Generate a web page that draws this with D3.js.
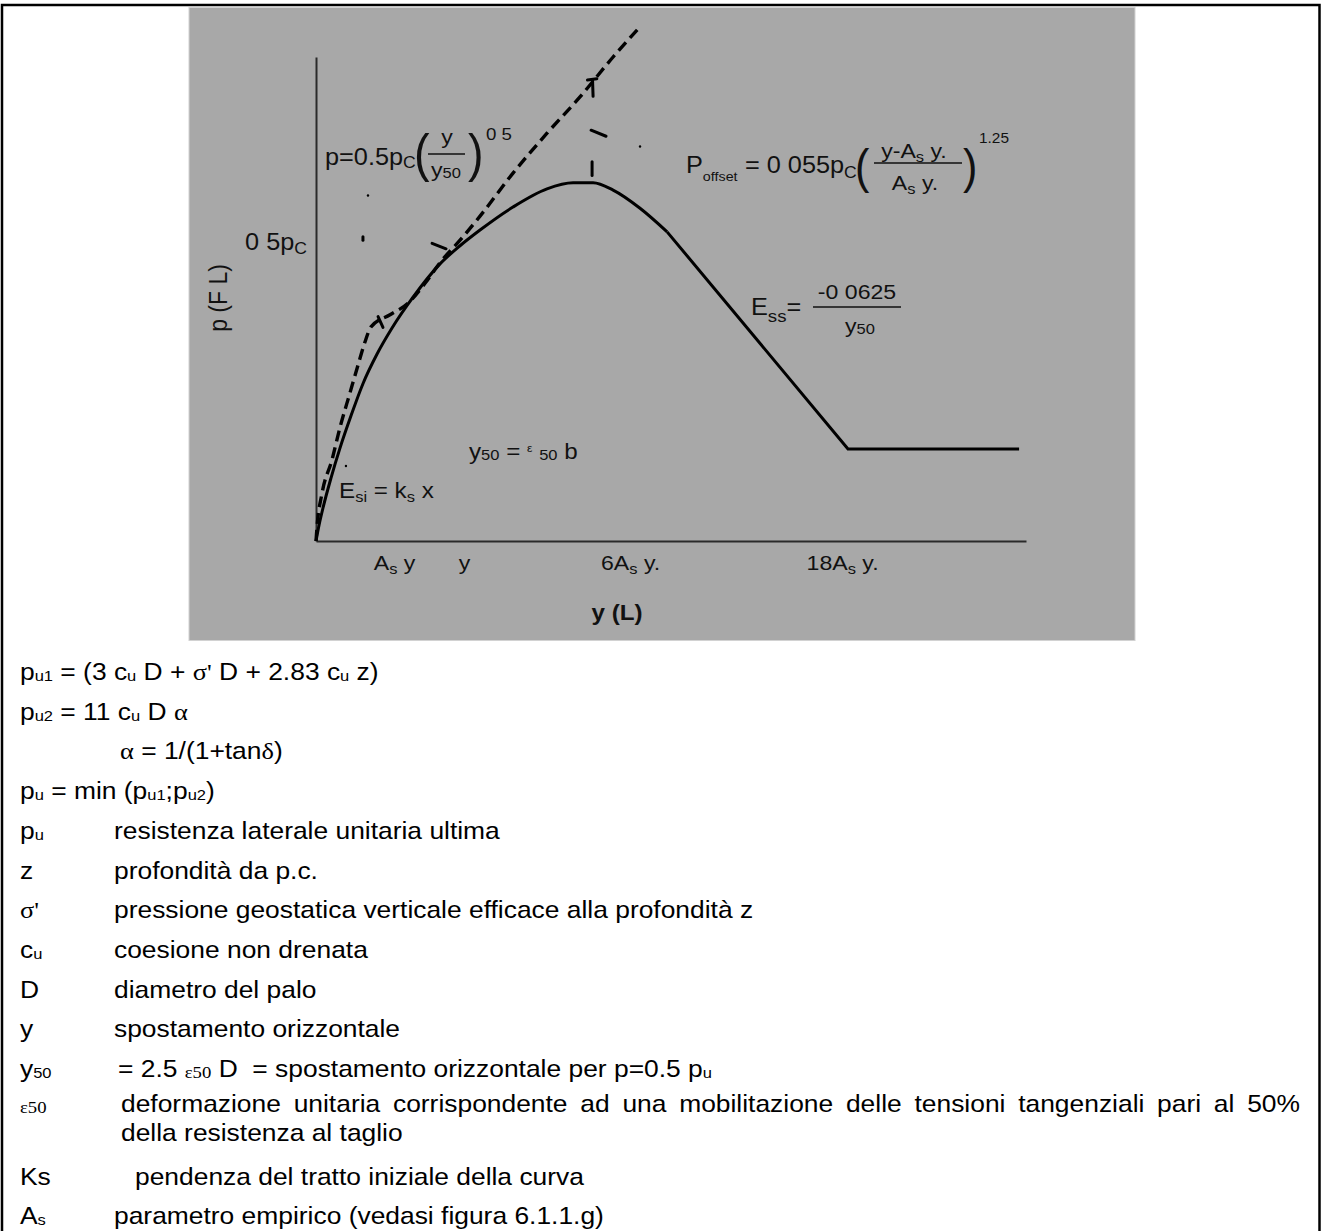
<!DOCTYPE html>
<html><head><meta charset="utf-8">
<script src="https://cdn.jsdelivr.net/npm/d3@7"></script>
<style>
html,body{margin:0;padding:0;background:#fff;overflow:hidden;}
svg{display:block;}
text{font-family:"Liberation Sans",Arial,Helvetica,sans-serif;white-space:pre;}
</style></head><body>
<svg id="c" width="1321" height="1231"></svg>
<script>
// ---------------- DATA ----------------
// x in units of y50, p in units of pc
const curveX = [0, 0.021, 0.049, 0.104, 0.167, 0.243, 0.326, 0.424, 0.528, 0.674, 0.861, 1.000, 1.139, 1.368, 1.604, 1.785, 1.924, 2.063, 2.250, 2.438];
const curveP = [0, 0.026, 0.055, 0.104, 0.154, 0.207, 0.260, 0.309, 0.352, 0.403, 0.458, 0.488, 0.514, 0.552, 0.582, 0.592, 0.592, 0.580, 0.550, 0.511];
const residualX = [2.438, 3.694, 4.882];
const residualP = [0.511, 0.152, 0.152];
const parabolaX = [0, 0.007, 0.042, 0.111, 0.167, 0.236, 0.292, 0.340, 0.382, 0.514, 0.639, 0.757, 0.861, 1.014, 1.139, 1.368, 1.604, 1.833, 2.063, 2.250];
const parabolaP = [0, 0.023, 0.079, 0.134, 0.188, 0.245, 0.291, 0.329, 0.354, 0.374, 0.393, 0.426, 0.460, 0.501, 0.537, 0.608, 0.674, 0.734, 0.800, 0.850];
const xTickValues = [0.542, 1.028, 2.181, 3.653];
const xTickLabels = [
  [["A"],["s","sub"],[" y"]],
  [["y"]],
  [["6A"],["s","sub"],[" y."]],
  [["18A"],["s","sub"],[" y."]]
];
const yTickValues = [0.5];
const yTickLabels = [[["0 5p"],["C","sub"]]];
// stray pen marks of the scanned figure (segments x1,p1,x2,p2)
const strayX1 = [1.917, 1.910, 1.920, 1.885, 0.806, 0.431, 0.326];
const strayP1 = [0.627, 0.679, 0.763, 0.762, 0.492, 0.371, 0.503];
const strayX2 = [1.917, 2.014, 1.924, 1.950, 0.903, 0.465, 0.326];
const strayP2 = [0.604, 0.669, 0.735, 0.764, 0.483, 0.353, 0.497];
const dotX = [2.25, 0.361, 0.208];
const dotP = [0.652, 0.571, 0.124];

// ---------------- DRAW ----------------
const svg = d3.select("#c");
const SX = 1.1;
const SERIF = "'Liberation Serif','DejaVu Serif',serif";

function rich(parent, x, y, segs, o = {}) {
  const size = o.size || 23, sx = o.sx || SX;
  const t = parent.append("text")
    .attr("transform", `translate(${x},${y}) scale(${sx},1)`)
    .attr("text-anchor", o.anchor || "start")
    .attr("font-size", size)
    .attr("fill", o.fill || "#111");
  if (o.weight) t.attr("font-weight", o.weight);
  let cur = 0;
  segs.forEach(([s, k]) => {
    let fs = size, off = 0, fam = null;
    if (k === "sub") { fs = o.subSize || Math.round(size * 0.66); off = o.subOff != null ? o.subOff : Math.round(size * 0.2); }
    else if (k === "sm") { fs = o.subSize || Math.round(size * 0.64); off = 1; }
    else if (k === "g") { fam = SERIF; }
    else if (k === "gs") { fam = SERIF; fs = Math.round(size * 0.7); off = 1; }
    else if (k === "tiny") { fs = Math.round(size * 0.5); off = -Math.round(size * 0.3); }
    const ts = t.append("tspan").attr("font-size", fs).attr("dy", off - cur).text(s);
    if (fam) ts.attr("font-family", fam);
    cur = off;
  });
  return t;
}

// outer frame
svg.append("rect").attr("x", 2).attr("y", 5).attr("width", 1317.5).attr("height", 1300)
  .attr("fill", "none").attr("stroke", "#000").attr("stroke-width", 2.5);

// grey figure panel
svg.append("rect").attr("x", 189).attr("y", 7.5).attr("width", 946).attr("height", 633)
  .attr("fill", "#a8a8a8").attr("stroke", "#d2d2d2").attr("stroke-width", 1);

const x = d3.scaleLinear().domain([0, 4.93]).range([316, 1026]);
const y = d3.scaleLinear().domain([0, 0.8]).range([541, 57]);

const chart = svg.append("g");

// axes
const gx = chart.append("g").attr("transform", `translate(0,${y(0)})`)
  .call(d3.axisBottom(x).tickValues(xTickValues).tickSize(0).tickFormat(() => ""));
const gy = chart.append("g").attr("transform", `translate(${x(0)},0)`)
  .call(d3.axisLeft(y).tickValues(yTickValues).tickSize(0).tickFormat(() => ""));
[gx, gy].forEach(g => g.select(".domain").attr("stroke", "#2a2a2a").attr("stroke-width", 2));

gx.selectAll(".tick").each(function (d, i) {
  rich(d3.select(this), 0, 29, xTickLabels[i], { anchor: "middle", size: 21, subSize: 15, subOff: 4 });
});
gy.selectAll(".tick").each(function (d, i) {
  rich(d3.select(this), -9, 11, yTickLabels[i], { anchor: "end", size: 23, subSize: 16, subOff: 4 });
});

// axis titles
rich(chart, 617, 620, [["y (L)"]], { anchor: "middle", size: 22, weight: "bold" });
chart.append("text")
  .attr("transform", "translate(227,298) rotate(-90) scale(1,1.1)")
  .attr("text-anchor", "middle").attr("font-size", 23).attr("fill", "#111")
  .text("p (F L)");

// curves
chart.append("path")
  .datum(parabolaX.map((v, i) => [v, parabolaP[i]]))
  .attr("d", d3.line().x(d => x(d[0])).y(d => y(d[1])).curve(d3.curveMonotoneX))
  .attr("fill", "none").attr("stroke", "#000").attr("stroke-width", 3.4)
  .attr("stroke-dasharray", "11,6");
chart.append("path")
  .datum(curveX.map((v, i) => [v, curveP[i]]))
  .attr("d", d3.line().x(d => x(d[0])).y(d => y(d[1])).curve(d3.curveMonotoneX))
  .attr("fill", "none").attr("stroke", "#000").attr("stroke-width", 3);
chart.append("path")
  .datum(residualX.map((v, i) => [v, residualP[i]]))
  .attr("d", d3.line().x(d => x(d[0])).y(d => y(d[1])))
  .attr("fill", "none").attr("stroke", "#000").attr("stroke-width", 3)
  .attr("stroke-linejoin", "miter");

// stray marks
chart.selectAll("line.stray").data(strayX1).join("line").attr("class", "stray")
  .attr("x1", (d, i) => x(strayX1[i])).attr("y1", (d, i) => y(strayP1[i]))
  .attr("x2", (d, i) => x(strayX2[i])).attr("y2", (d, i) => y(strayP2[i]))
  .attr("stroke", "#000").attr("stroke-width", 3).attr("stroke-linecap", "round");
chart.selectAll("circle.dot").data(dotX).join("circle").attr("class", "dot")
  .attr("cx", (d, i) => x(dotX[i])).attr("cy", (d, i) => y(dotP[i])).attr("r", 1.2).attr("fill", "#000");

// ---- annotations ----
rich(chart, 325, 165, [["p=0.5p"], ["C", "sub"]], { size: 23, subSize: 16, subOff: 3 });
rich(chart, 414, 171, [["("]], { size: 52, sx: 0.9 });
rich(chart, 447, 144, [["y"]], { anchor: "middle", size: 21 });
chart.append("line").attr("x1", 428).attr("x2", 465).attr("y1", 154).attr("y2", 154).attr("stroke", "#111").attr("stroke-width", 1.5);
rich(chart, 446, 177, [["y"], ["50", "sm"]], { anchor: "middle", size: 21, subSize: 15 });
rich(chart, 468, 171, [[")"]], { size: 52, sx: 0.9 });
rich(chart, 486, 140, [["0 5"]], { size: 17 });

rich(chart, 686, 173, [["P"], ["offset", "sub"]], { size: 23, subSize: 13, subOff: 8 });
rich(chart, 745, 173, [["= 0 055p"], ["C", "sub"]], { size: 23, subSize: 16, subOff: 5 });
rich(chart, 855, 183, [["("]], { size: 48, sx: 0.9 });
rich(chart, 914, 158, [["y-A"], ["s", "sub"], [" y."]], { anchor: "middle", size: 21, subSize: 15, subOff: 4 });
chart.append("line").attr("x1", 874).attr("x2", 962).attr("y1", 163).attr("y2", 163).attr("stroke", "#111").attr("stroke-width", 1.5);
rich(chart, 915, 190, [["A"], ["s", "sub"], [" y."]], { anchor: "middle", size: 21, subSize: 15, subOff: 4 });
rich(chart, 963, 183, [[")"]], { size: 48, sx: 0.9 });
rich(chart, 979, 143, [["1.25"]], { size: 14 });

rich(chart, 751, 315, [["E"], ["ss", "sub"], ["="]], { size: 23, subSize: 17, subOff: 7 });
rich(chart, 857, 299, [["-0 0625"]], { anchor: "middle", size: 21 });
chart.append("line").attr("x1", 813).attr("x2", 901).attr("y1", 307).attr("y2", 307).attr("stroke", "#111").attr("stroke-width", 1.5);
rich(chart, 860, 333, [["y"], ["50", "sm"]], { anchor: "middle", size: 21, subSize: 15 });

rich(chart, 469, 459, [["y"], ["50", "sm"], [" = "], ["ε", "tiny"], [" "], ["50", "sm"], [" b"]], { size: 22, subSize: 15 });
rich(chart, 339, 498, [["E"], ["si", "sub"], [" = k"], ["s", "sub"], [" x"]], { size: 22, subSize: 15, subOff: 4 });

// ---------------- TEXT BLOCK ----------------
const tb = svg.append("g");
const TS = 24, SYM_X = 20, DESC_X = 114;
const lineY = [680, 719.7, 759.4, 799.1, 838.8, 878.5, 918.2, 957.9, 997.6, 1037.3, 1077, 1112, 1141, 1185, 1224];
const O = { size: TS, subSize: 15, fill: "#000" };

rich(tb, SYM_X, lineY[0], [["p"], ["u1", "sm"], [" = (3 c"], ["u", "sm"], [" D + "], ["σ'", "g"], [" D + 2.83 c"], ["u", "sm"], [" z)"]], O);
rich(tb, SYM_X, lineY[1], [["p"], ["u2", "sm"], [" = 11 c"], ["u", "sm"], [" D "], ["α", "g"]], O);
rich(tb, 120, lineY[2], [["α", "g"], [" = 1/(1+tan"], ["δ", "g"], [")"]], O);
rich(tb, SYM_X, lineY[3], [["p"], ["u", "sm"], [" = min (p"], ["u1", "sm"], [";p"], ["u2", "sm"], [")"]], O);

const defs = [
  [[["p"], ["u", "sm"]], DESC_X, [["resistenza laterale unitaria ultima"]]],
  [[["z"]], DESC_X, [["profondità da p.c."]]],
  [[["σ'", "g"]], DESC_X, [["pressione geostatica verticale efficace alla profondità z"]]],
  [[["c"], ["u", "sm"]], DESC_X, [["coesione non drenata"]]],
  [[["D"]], DESC_X, [["diametro del palo"]]],
  [[["y"]], DESC_X, [["spostamento orizzontale"]]],
  [[["y"], ["50", "sm"]], 118, [["= 2.5 "], ["ε50", "gs"], [" D  = spostamento orizzontale per p=0.5 p"], ["u", "sm"]]],
];
defs.forEach((d, i) => {
  rich(tb, SYM_X, lineY[4 + i], d[0], O);
  rich(tb, d[1], lineY[4 + i], d[2], O);
});
rich(tb, SYM_X, lineY[11], [["ε50", "gs"]], O);
const words = "deformazione unitaria corrispondente ad una mobilitazione delle tensioni tangenziali pari al 50%".split(" ");
const L0 = 121, L1 = 1300;
const wEls = words.map(w => rich(tb, 0, lineY[11], [[w]], O));
const widths = wEls.map(e => e.node().getComputedTextLength() * SX);
const gap = (L1 - L0 - d3.sum(widths)) / (words.length - 1);
let cx = L0;
wEls.forEach((e, i) => {
  e.attr("transform", `translate(${cx},${lineY[11]}) scale(${SX},1)`);
  cx += widths[i] + gap;
});
rich(tb, 121, lineY[12], [["della resistenza al taglio"]], O);
rich(tb, SYM_X, lineY[13], [["Ks"]], O);
rich(tb, 135, lineY[13], [["pendenza del tratto iniziale della curva"]], O);
rich(tb, SYM_X, lineY[14], [["A"], ["s", "sm"]], O);
rich(tb, DESC_X, lineY[14], [["parametro empirico (vedasi figura 6.1.1.g)"]], O);
</script>
</body></html>
